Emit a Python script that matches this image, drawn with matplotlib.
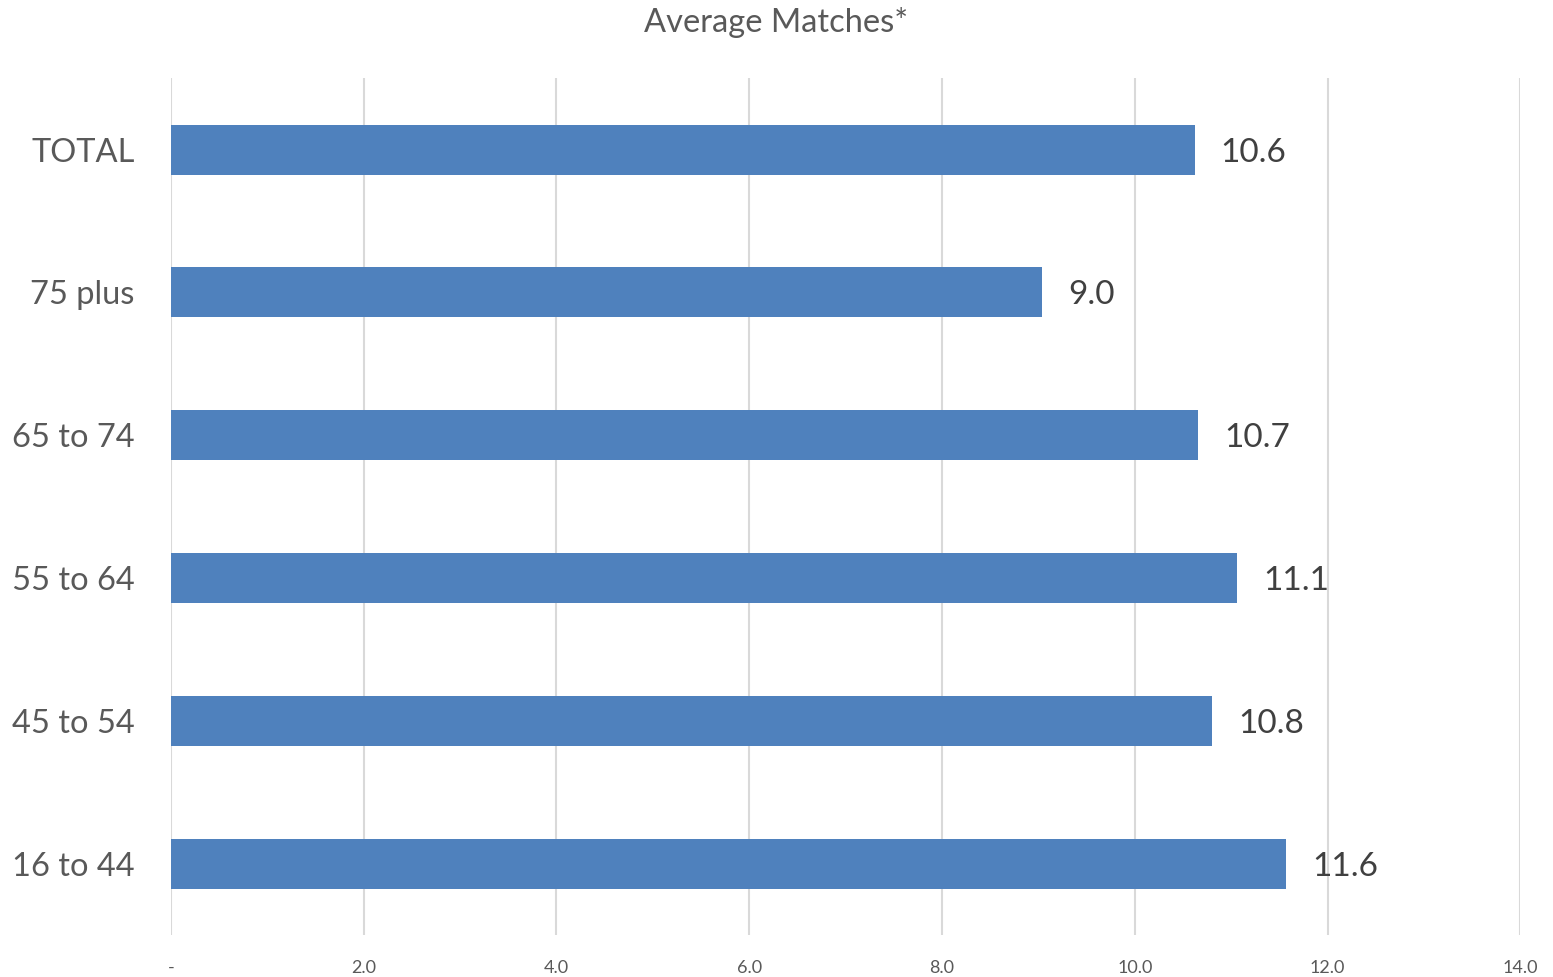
import matplotlib.pyplot as plt
import numpy as np

plt.rcParams['font.family'] = ['Lato', 'DejaVu Sans']

# data (bottom to top as drawn)
groups = ['16 to 44', '45 to 54', '55 to 64', '65 to 74', '75 plus', 'TOTAL']
avg_matches = [11.57, 10.80, 11.06, 10.66, 9.04, 10.62]
xticks = [0, 2, 4, 6, 8, 10, 12, 14]

grey = '#595959'
bar_col = '#4F81BD'

fig = plt.figure(figsize=(15.53, 9.77), dpi=100)
ax = fig.add_axes([0.110, 0.043, 0.869, 0.877])

y = np.arange(len(groups))
ax.barh(y, avg_matches, height=0.35, color=bar_col, zorder=3)

for yi, v in zip(y, avg_matches):
    ax.text(v + 0.27, yi, '%.1f' % v, va='center_baseline', ha='left',
            fontsize=24, color='#404040')

ax.set_xlim(0, 14)
ax.set_ylim(-0.5, len(groups) - 0.5)
ax.set_xticks(xticks)
ax.set_xticklabels(['-' if t == 0 else '%.1f' % t for t in xticks],
                   fontsize=13, color=grey)
ax.set_yticks(y)
ax.set_yticklabels(groups, fontsize=23.5, color=grey, va='center_baseline')
ax.tick_params(axis='both', length=0)
ax.tick_params(axis='x', pad=18)
ax.tick_params(axis='y', pad=26)

ax.grid(axis='x', color='#D9D9D9', linewidth=1.5, zorder=0)
for s in ax.spines.values():
    s.set_visible(False)

fig.text(0.5, 0.977, 'Average Matches*', ha='center', va='center',
         fontsize=23.5, color=grey)

fig.savefig('out.png', dpi=100)
